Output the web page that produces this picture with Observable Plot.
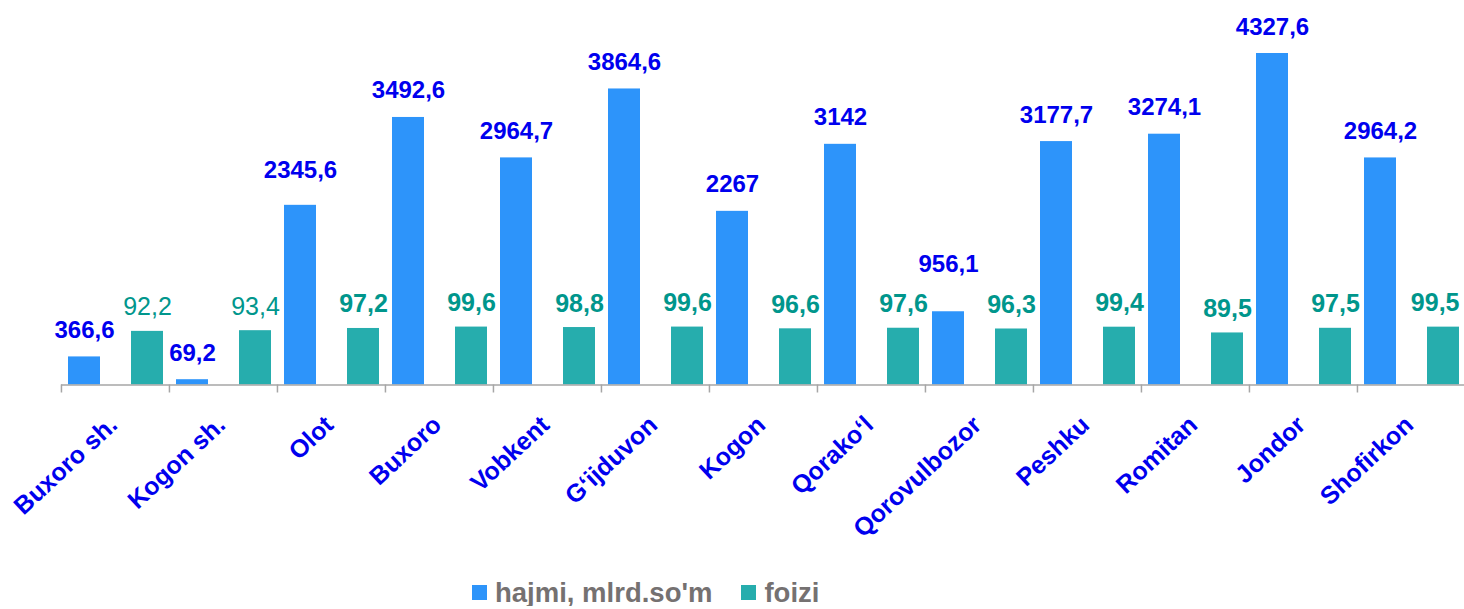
<!DOCTYPE html>
<html>
<head>
<meta charset="utf-8">
<script src="https://cdn.jsdelivr.net/npm/d3@7"></script>
<script src="https://cdn.jsdelivr.net/npm/@observablehq/plot@0.6"></script>
<style>
  html, body { margin: 0; padding: 0; background: #fff; }
  #chart svg { display: block; }
  .legend { display: flex; align-items: center; margin-left: 472px; margin-top: -3px; height: 27px;
    font-family: "Liberation Sans", Arial, sans-serif; font-weight: bold; font-size: 27.5px;
    line-height: 27px; color: #757171; }
  .legend .sw { width: 15px; height: 15px; display: inline-block; margin-right: 8px; }
  .legend .item { display: flex; align-items: center; margin-right: 29px; }
</style>
</head>
<body>
<div id="chart"></div>
<div class="legend">
  <span class="item"><span class="sw" style="background:#2d94fa"></span>hajmi, mlrd.so'm</span>
  <span class="item"><span class="sw" style="background:#26adad"></span>foizi</span>
</div>
<script>
const regions = ["Buxoro sh.", "Kogon sh.", "Olot", "Buxoro", "Vobkent", "G\u2018ijduvon", "Kogon", "Qorako\u2018l", "Qorovulbozor", "Peshku", "Romitan", "Jondor", "Shofirkon"];
const hajmi = [366.6, 69.2, 2345.6, 3492.6, 2964.7, 3864.6, 2267, 3142, 956.1, 3177.7, 3274.1, 4327.6, 2964.2];
const foizi = [92.2, 93.4, 97.2, 99.6, 98.8, 99.6, 96.6, 97.6, 96.3, 99.4, 89.5, 97.5, 99.5];
const series = ["hajmi", "foizi"];
// primary (hajmi) and hidden secondary (foizi) axis maxima
const hajmiAxisMax = 4327.6;
const foiziAxisMax = 570;

const fmt = v => String(v).replace(".", ",");
const hajmiRows = regions.map((r, i) => ({region: r, series: "hajmi", value: hajmi[i], yv: hajmi[i], idx: i}));
const foiziRows = regions.map((r, i) => ({region: r, series: "foizi", value: foizi[i], yv: foizi[i] / foiziAxisMax * hajmiAxisMax, idx: i}));

const FONT = "'Liberation Sans', Arial, sans-serif";
const BLUE = "#2d94fa", TEAL = "#26adad";
const LABEL_BLUE = "#0000ee", LABEL_TEAL = "#00968c";

// label placement tweaks (as the original chart moved a few labels)
const hajmiLabelOffset = r => r === "Qorovulbozor" ? -40 : r === "Olot" ? -27 : -19;

const blueLabelMarks = Array.from(d3.group(hajmiRows, d => hajmiLabelOffset(d.region)), ([off, rows]) =>
  Plot.text(rows, {fx: "region", x: "series", y: "yv", text: d => fmt(d.value),
    dy: off, lineAnchor: "bottom", fill: LABEL_BLUE, fontWeight: "bold", fontSize: 24}));

const last = regions.length - 1;
const tealCommon = {fx: "region", x: "series", y: "yv", text: d => fmt(d.value), dy: -16, lineAnchor: "bottom", fill: LABEL_TEAL, fontSize: 25};

const chart = Plot.plot({
  width: 1464,
  height: 582,
  marginTop: 53,
  marginBottom: 197.5,
  marginLeft: 60,
  marginRight: -1,
  style: {fontFamily: FONT, background: "#fff"},
  fx: {domain: regions, padding: 0, axis: null, label: null},
  x: {domain: series, paddingInner: 0.5, paddingOuter: 0.095, axis: null},
  y: {domain: [0, hajmiAxisMax], axis: null},
  marks: [
    Plot.barY(hajmiRows, {fx: "region", x: "series", y: "yv", fill: BLUE}),
    Plot.barY(foiziRows, {fx: "region", x: "series", y: "yv", fill: TEAL}),
    Plot.ruleY([0], {stroke: "#a6a6a6", strokeWidth: 1.5}),
    ...blueLabelMarks,
    Plot.text(foiziRows.filter(d => d.idx < 2), {...tealCommon}),
    Plot.text(foiziRows.filter(d => d.idx >= 2 && d.idx < last), {...tealCommon, fontWeight: "bold"}),
    Plot.text(foiziRows.filter(d => d.idx === last), {...tealCommon, fontWeight: "bold", textAnchor: "end", dx: 16}),
    // boundary ticks between groups
    Plot.axisFx({anchor: "bottom", tickSize: 8, tickFormat: () => "", stroke: "#a6a6a6", strokeWidth: 1.5, dx: -54.05, label: null}),
    // category labels
    Plot.axisFx({anchor: "bottom", tickSize: 0, tickPadding: 36, dx: -2, tickRotate: -43,
      fontSize: 25, fontWeight: "bold", fill: LABEL_BLUE, label: null})
  ]
});
document.getElementById("chart").appendChild(chart);
</script>
</body>
</html>
